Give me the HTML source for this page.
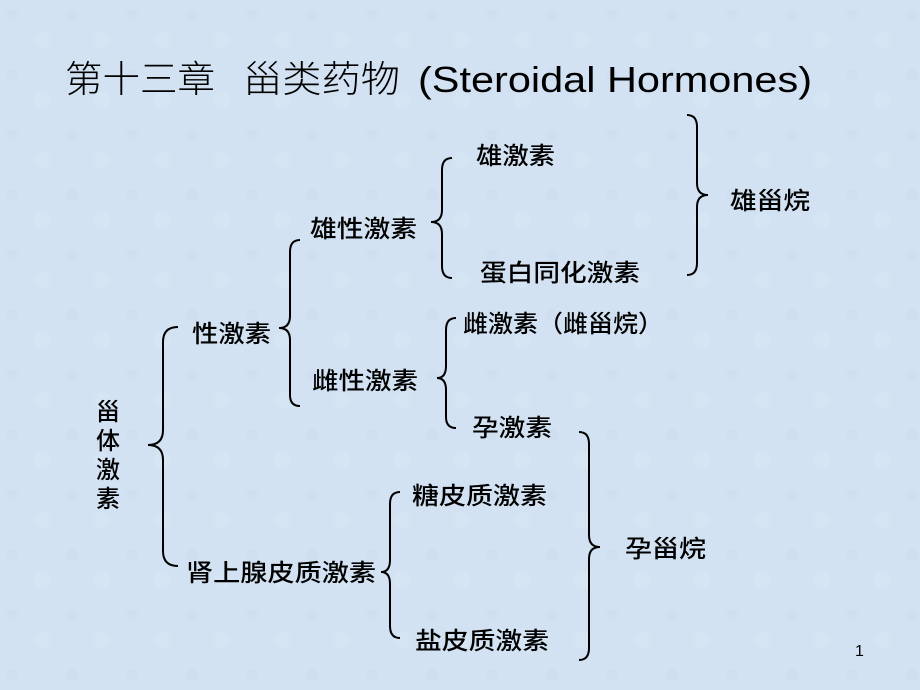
<!DOCTYPE html>
<html><head><meta charset="utf-8"><style>
html,body{margin:0;padding:0;}
body{width:920px;height:690px;overflow:hidden;background:#d3e3f2;}
svg{display:block}
text{font-family:"Liberation Sans","Noto Sans CJK SC",sans-serif;fill:#000;}
</style></head><body>
<svg width="920" height="690" viewBox="0 0 920 690" xmlns="http://www.w3.org/2000/svg">
<defs>
<pattern id="p" width="60" height="60" patternUnits="userSpaceOnUse">
<rect width="60" height="60" fill="#d2e2f2"/>
<circle cx="12" cy="15" r="6" fill="#cbdcef" opacity=".5"/>
<circle cx="42" cy="40" r="8" fill="#dae7f5" opacity=".5"/>
</pattern>
</defs>
<rect width="920" height="690" fill="url(#p)"/>
<text x="65" y="92" font-size="37" font-weight="300" textLength="150" lengthAdjust="spacingAndGlyphs">第十三章</text>
<text x="243" y="92" font-size="37" font-weight="300" textLength="157" lengthAdjust="spacingAndGlyphs">甾类药物</text>
<text x="418" y="92" font-size="36" textLength="394" lengthAdjust="spacingAndGlyphs">(Steroidal Hormones)</text>

<g fill="none" stroke="#000" stroke-width="2">
<path d="M178,327 Q163,327 163,342 L163,430 Q163,445 148,445 Q163,445 163,460 L163,551 Q163,566 178,566"/>
<path d="M300,240 Q290,240 290,252 L290,316 Q290,328 279,328 Q290,328 290,340 L290,395 Q290,406 300,406"/>
<path d="M452,158 Q442,158 442,170 L442,210 Q442,222 431,222 Q442,222 442,234 L442,266 Q442,278 452,278"/>
<path d="M456,318 Q446,318 446,330 L446,366 Q446,378 437,378 Q446,378 446,390 L446,417 Q446,428 456,428"/>
<path d="M400,492 Q390,492 390,504 L390,560 Q390,572 381,572 Q390,572 390,584 L390,626 Q390,638 400,638"/>
<path d="M687,115 Q697,115 697,127 L697,183 Q697,195 708,195 Q697,195 697,207 L697,263 Q697,275 687,275"/>
<path d="M579,432 Q589,432 589,444 L589,535 Q589,547 600,547 Q589,547 589,559 L589,648 Q589,660 579,660"/>
</g>

<g font-size="24" font-weight="500">
<text x="476" y="164" textLength="79" lengthAdjust="spacingAndGlyphs">雄激素</text>
<text x="730" y="209" textLength="80" lengthAdjust="spacingAndGlyphs">雄甾烷</text>
<text x="310" y="237" textLength="107" lengthAdjust="spacingAndGlyphs">雄性激素</text>
<text x="480" y="281" textLength="160" lengthAdjust="spacingAndGlyphs">蛋白同化激素</text>
<text x="463" y="332" textLength="200" lengthAdjust="spacingAndGlyphs">雌激素（雌甾烷）</text>
<text x="192" y="342" textLength="79" lengthAdjust="spacingAndGlyphs">性激素</text>
<text x="312" y="389" textLength="106" lengthAdjust="spacingAndGlyphs">雌性激素</text>
<text x="96" y="420">甾</text>
<text x="96" y="449">体</text>
<text x="96" y="478">激</text>
<text x="96" y="507">素</text>
<text x="472" y="436" textLength="80" lengthAdjust="spacingAndGlyphs">孕激素</text>
<text x="412" y="504" textLength="135" lengthAdjust="spacingAndGlyphs">糖皮质激素</text>
<text x="625" y="557" textLength="81" lengthAdjust="spacingAndGlyphs">孕甾烷</text>
<text x="186" y="581" textLength="190" lengthAdjust="spacingAndGlyphs">肾上腺皮质激素</text>
<text x="415" y="649" textLength="134" lengthAdjust="spacingAndGlyphs">盐皮质激素</text>
</g>
<text x="855" y="656" font-size="16">1</text>
</svg>
</body></html>
